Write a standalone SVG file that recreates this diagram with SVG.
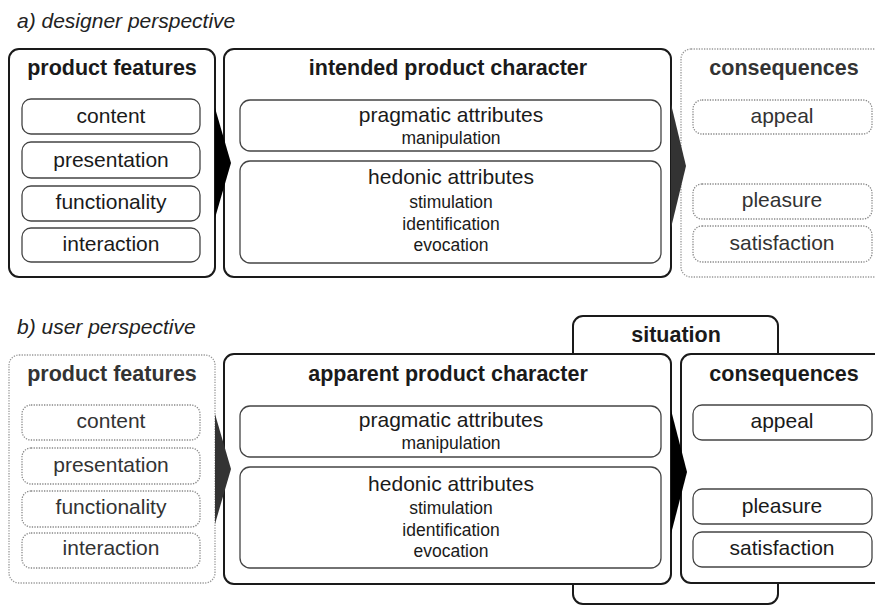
<svg xmlns="http://www.w3.org/2000/svg" width="875" height="605" viewBox="0 0 875 605">
<style>
text{font-family:"Liberation Sans",Arial,sans-serif;fill:#1a1a1a;text-anchor:middle}
.title{font-style:italic;font-size:21px;text-anchor:start;fill:#222}
.hd{font-weight:bold;font-size:21.5px}
.it{font-size:21px}
.sub{font-size:17.5px}
.outer{fill:#fff;stroke:#1a1a1a;stroke-width:2}
.inner{fill:#fff;stroke:#444;stroke-width:1.3}
.douter{fill:#fff;stroke:#999;stroke-width:1.3;stroke-dasharray:1.3 1.3}
.dinner{fill:#fff;stroke:#888;stroke-width:1.3;stroke-dasharray:1.3 1.3}
.dt{fill:#333}
</style>
<rect width="875" height="605" fill="#fff"/>

<!-- a) designer perspective -->
<text class="title" x="17" y="28">a) designer perspective</text>

<g id="a-features">
  <rect class="outer" x="9" y="49" width="206" height="228" rx="10"/>
  <text class="hd" x="112" y="75">product features</text>
  <rect class="inner" x="22" y="99" width="178" height="35" rx="9"/>
  <text class="it" x="111" y="123">content</text>
  <rect class="inner" x="22" y="142" width="178" height="36" rx="9"/>
  <text class="it" x="111" y="167">presentation</text>
  <rect class="inner" x="22" y="186" width="178" height="35" rx="9"/>
  <text class="it" x="111" y="209">functionality</text>
  <rect class="inner" x="22" y="228" width="178" height="34" rx="9"/>
  <text class="it" x="111" y="251">interaction</text>
</g>

<g id="a-character">
  <rect class="outer" x="224" y="49" width="447" height="228" rx="10"/>
  <text class="hd" x="448" y="75">intended product character</text>
  <rect class="inner" x="240" y="100" width="421" height="51" rx="10"/>
  <text class="it" x="451" y="122">pragmatic attributes</text>
  <text class="sub" x="451" y="144">manipulation</text>
  <rect class="inner" x="240" y="161" width="421" height="102" rx="10"/>
  <text class="it" x="451" y="184">hedonic attributes</text>
  <text class="sub" x="451" y="208">stimulation</text>
  <text class="sub" x="451" y="230">identification</text>
  <text class="sub" x="451" y="251">evocation</text>
</g>

<g id="a-consequences">
  <rect class="douter" x="681" y="49" width="204" height="228" rx="10"/>
  <text class="hd dt" x="784" y="75">consequences</text>
  <rect class="dinner" x="693" y="100" width="179" height="34" rx="9"/>
  <text class="it dt" x="782" y="123">appeal</text>
  <rect class="dinner" x="693" y="184" width="179" height="35" rx="9"/>
  <text class="it dt" x="782" y="207">pleasure</text>
  <rect class="dinner" x="693" y="226" width="179" height="36" rx="9"/>
  <text class="it dt" x="782" y="250">satisfaction</text>
</g>

<!-- b) user perspective -->
<text class="title" x="17" y="334">b) user perspective</text>

<g id="b-situation">
  <rect class="outer" x="573" y="316" width="205" height="288" rx="10"/>
  <text class="hd" x="676" y="342">situation</text>
</g>

<g id="b-features">
  <rect class="douter" x="9" y="355" width="206" height="228" rx="10"/>
  <text class="hd dt" x="112" y="381">product features</text>
  <rect class="dinner" x="22" y="405" width="178" height="35" rx="9"/>
  <text class="it dt" x="111" y="428">content</text>
  <rect class="dinner" x="22" y="448" width="178" height="36" rx="9"/>
  <text class="it dt" x="111" y="472">presentation</text>
  <rect class="dinner" x="22" y="491" width="178" height="36" rx="9"/>
  <text class="it dt" x="111" y="514">functionality</text>
  <rect class="dinner" x="22" y="533" width="178" height="35" rx="9"/>
  <text class="it dt" x="111" y="555">interaction</text>
</g>

<g id="b-character">
  <rect class="outer" x="224" y="354" width="447" height="230" rx="10"/>
  <text class="hd" x="448" y="381">apparent product character</text>
  <rect class="inner" x="240" y="406" width="421" height="51" rx="10"/>
  <text class="it" x="451" y="427">pragmatic attributes</text>
  <text class="sub" x="451" y="449">manipulation</text>
  <rect class="inner" x="240" y="467" width="421" height="101" rx="10"/>
  <text class="it" x="451" y="491">hedonic attributes</text>
  <text class="sub" x="451" y="514">stimulation</text>
  <text class="sub" x="451" y="536">identification</text>
  <text class="sub" x="451" y="557">evocation</text>
</g>

<g id="b-consequences">
  <rect class="outer" x="681" y="354" width="204" height="229" rx="10"/>
  <text class="hd" x="784" y="381">consequences</text>
  <rect class="inner" x="693" y="405" width="179" height="35" rx="9"/>
  <text class="it" x="782" y="428">appeal</text>
  <rect class="inner" x="693" y="489" width="179" height="35" rx="9"/>
  <text class="it" x="782" y="513">pleasure</text>
  <rect class="inner" x="693" y="532" width="179" height="35" rx="9"/>
  <text class="it" x="782" y="555">satisfaction</text>
</g>

<g id="connectors">
  <polygon points="215,108 231,163 215,218" fill="#000"/>
  <polygon points="671,104 686,166 671,228" fill="#333"/>
  <polygon points="215,414 231,469 215,524" fill="#333"/>
  <polygon points="671,410 687,472 671,534" fill="#000"/>
</g>
</svg>
